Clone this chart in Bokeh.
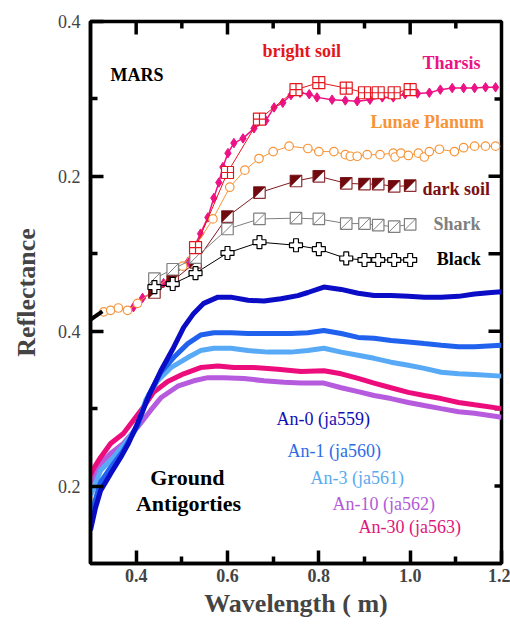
import math
from bokeh.plotting import figure
from bokeh.models import Range1d, LinearAxis, FixedTicker, Label, Arrow, CustomJSTickFormatter
from bokeh.embed import file_html
from bokeh.resources import INLINE

# ---------------- MARS spectra (upper panel, reflectance 0..0.4) ----------------
tharsis_x = [0.394, 0.414, 0.438, 0.460, 0.487, 0.513, 0.526, 0.541, 0.557, 0.570, 0.581, 0.590,
             0.601, 0.614, 0.634, 0.658, 0.684, 0.702, 0.721, 0.739, 0.759, 0.779, 0.796, 0.829,
             0.858, 0.884, 0.912, 0.939, 0.963, 0.989, 1.016, 1.042, 1.066, 1.092, 1.117, 1.141,
             1.165, 1.187]
tharsis_y = [0.031, 0.043, 0.050, 0.062, 0.075, 0.089, 0.108, 0.126, 0.147, 0.172, 0.192, 0.212,
             0.230, 0.243, 0.249, 0.262, 0.272, 0.289, 0.295, 0.305, 0.308, 0.306, 0.302, 0.299,
             0.298, 0.297, 0.299, 0.302, 0.302, 0.306, 0.307, 0.308, 0.312, 0.314, 0.314, 0.314,
             0.315, 0.315]

lunae_x = [0.329, 0.344, 0.361, 0.381, 0.403, 0.502, 0.568, 0.605, 0.638, 0.669, 0.700, 0.735,
           0.776, 0.800, 0.833, 0.858, 0.869, 0.884, 0.906, 0.934, 0.963, 0.967, 0.980, 0.996,
           1.018, 1.031, 1.042, 1.064, 1.097, 1.117, 1.141, 1.165, 1.187]
lunae_y = [0.025, 0.027, 0.030, 0.027, 0.036, 0.084, 0.145, 0.186, 0.208, 0.223, 0.232, 0.239,
           0.236, 0.232, 0.232, 0.228, 0.226, 0.226, 0.228, 0.228, 0.230, 0.225, 0.230, 0.227,
           0.230, 0.225, 0.232, 0.235, 0.232, 0.237, 0.239, 0.239, 0.239]

bright_x = [0.53, 0.60, 0.67, 0.75, 0.80, 0.86, 0.90, 0.93, 0.965, 1.00]
bright_y = [0.108, 0.205, 0.274, 0.312, 0.321, 0.314, 0.308, 0.308, 0.308, 0.312]

soil_x = [0.44, 0.48, 0.53, 0.60, 0.67, 0.75, 0.80, 0.86, 0.90, 0.93, 0.965, 1.00]
dark_y = [0.050, 0.065, 0.089, 0.148, 0.179, 0.194, 0.200, 0.191, 0.190, 0.190, 0.187, 0.188]
shark_y = [0.068, 0.080, 0.095, 0.132, 0.145, 0.146, 0.145, 0.139, 0.139, 0.137, 0.135, 0.138]
black_y = [0.057, 0.061, 0.075, 0.101, 0.115, 0.111, 0.106, 0.094, 0.092, 0.092, 0.092, 0.092]

# ---------------- Ground antigorites (lower panel, reflectance 0.1..0.4) ----------------
an0_x = [0.300, 0.311, 0.322, 0.344, 0.366, 0.383, 0.403, 0.425, 0.454, 0.482, 0.504, 0.526,
         0.548, 0.579, 0.607, 0.645, 0.680, 0.717, 0.754, 0.776, 0.811, 0.849, 0.886, 0.921,
         0.958, 0.996, 1.031, 1.068, 1.106, 1.141, 1.178, 1.200]
an0_y = [0.143, 0.172, 0.194, 0.216, 0.237, 0.255, 0.281, 0.313, 0.349, 0.379, 0.405, 0.423,
         0.436, 0.444, 0.444, 0.440, 0.439, 0.442, 0.446, 0.450, 0.457, 0.454, 0.449, 0.446,
         0.446, 0.445, 0.444, 0.444, 0.445, 0.448, 0.450, 0.451]

an1_x = [0.300, 0.307, 0.322, 0.344, 0.372, 0.403, 0.427, 0.454, 0.482, 0.513, 0.541, 0.570,
         0.607, 0.645, 0.689, 0.739, 0.776, 0.811, 0.849, 0.886, 0.921, 0.958, 0.996, 1.031,
         1.068, 1.106, 1.141, 1.200]
an1_y = [0.162, 0.175, 0.205, 0.224, 0.246, 0.278, 0.317, 0.347, 0.366, 0.384, 0.395, 0.398,
         0.398, 0.397, 0.397, 0.397, 0.398, 0.401, 0.397, 0.392, 0.391, 0.388, 0.386, 0.384,
         0.382, 0.380, 0.380, 0.382]

an3_x = [0.300, 0.307, 0.322, 0.350, 0.381, 0.403, 0.421, 0.447, 0.476, 0.513, 0.541, 0.570,
         0.607, 0.645, 0.689, 0.739, 0.776, 0.811, 0.849, 0.886, 0.921, 0.958, 0.996, 1.031,
         1.068, 1.106, 1.141, 1.200]
an3_y = [0.188, 0.197, 0.220, 0.237, 0.259, 0.278, 0.311, 0.336, 0.353, 0.366, 0.375, 0.378,
         0.378, 0.375, 0.373, 0.373, 0.375, 0.378, 0.373, 0.369, 0.365, 0.360, 0.356, 0.352,
         0.347, 0.345, 0.344, 0.342]

an10_x = [0.300, 0.307, 0.322, 0.344, 0.372, 0.403, 0.432, 0.454, 0.491, 0.526, 0.557, 0.592,
          0.636, 0.680, 0.724, 0.761, 0.811, 0.849, 0.886, 0.921, 0.958, 0.996, 1.031, 1.068,
          1.106, 1.141, 1.200]
an10_y = [0.205, 0.210, 0.229, 0.242, 0.255, 0.276, 0.298, 0.314, 0.329, 0.336, 0.340, 0.340,
          0.339, 0.336, 0.334, 0.333, 0.333, 0.327, 0.322, 0.317, 0.313, 0.308, 0.304, 0.300,
          0.296, 0.294, 0.289]

an30_x = [0.300, 0.307, 0.322, 0.344, 0.372, 0.394, 0.416, 0.438, 0.469, 0.504, 0.541, 0.579,
          0.614, 0.658, 0.710, 0.761, 0.811, 0.849, 0.886, 0.921, 0.958, 0.996, 1.031, 1.068,
          1.106, 1.141, 1.200]
an30_y = [0.214, 0.223, 0.237, 0.255, 0.268, 0.285, 0.302, 0.321, 0.335, 0.345, 0.353, 0.355,
          0.353, 0.353, 0.351, 0.348, 0.349, 0.345, 0.339, 0.333, 0.327, 0.321, 0.317, 0.313,
          0.308, 0.305, 0.300]

x_major = [0.4, 0.6, 0.8, 1.0, 1.2]
x_minor = [0.5, 0.7, 0.9, 1.1]
top_major = [0.4, 0.6, 0.8, 1.0]
right_major = [0.4, 0.5, 0.6]
right_minor = [0.2, 0.3, 0.7]

SERIF = "Liberation Serif"

p = figure(width=510, height=624, output_backend="svg", toolbar_location=None,
           x_range=Range1d(0.3, 1.2), y_range=Range1d(0.1, 0.8),
           x_axis_location=None, y_axis_location=None,
           min_border_left=90, min_border_right=9, min_border_top=21, min_border_bottom=61)
p.extra_y_ranges = {"mars": Range1d(-0.3, 0.4)}
p.xgrid.visible = False
p.ygrid.visible = False
p.outline_line_color = "black"
p.outline_line_width = 3.5
p.background_fill_color = "white"
p.border_fill_color = "white"


def style_axis(ax):
    ax.axis_line_color = "black"
    ax.axis_line_width = 3.5
    ax.major_tick_line_width = 3.5
    ax.minor_tick_line_width = 3.5
    ax.major_tick_in = 13
    ax.major_tick_out = 0
    ax.minor_tick_in = 7
    ax.minor_tick_out = 0
    ax.major_label_text_font = SERIF
    ax.major_label_text_font_size = "18px"
    ax.axis_label_text_font = SERIF
    ax.axis_label_text_font_style = "bold"
    ax.axis_label_text_font_size = "26px"


bottom = LinearAxis(ticker=FixedTicker(ticks=x_major, minor_ticks=x_minor),
                    formatter=CustomJSTickFormatter(code="return tick.toFixed(1);"),
                    axis_label="Wavelength ( m)")
style_axis(bottom)
bottom.major_label_text_font_style = "bold"
bottom.major_label_standoff = 5
bottom.axis_label_standoff = 4
p.add_layout(bottom, "below")

left = LinearAxis(ticker=FixedTicker(ticks=[0.2, 0.4, 0.6, 0.8], minor_ticks=[0.3, 0.5, 0.7]),
                  formatter=CustomJSTickFormatter(
                      code="return (tick > 0.5 ? tick - 0.4 : tick).toFixed(1);"),
                  axis_label="Reflectance")
style_axis(left)
left.major_label_standoff = 10
left.axis_label_standoff = 14
p.add_layout(left, "left")

# inward ticks of the top and right frame edges (centred dashes clipped by the frame)
p.scatter(top_major, [0.8] * len(top_major), marker="dash", angle=math.pi / 2, size=26,
          line_color="black", line_width=3.5)
p.scatter(x_minor, [0.8] * len(x_minor), marker="dash", angle=math.pi / 2, size=14,
          line_color="black", line_width=3.5)
p.scatter([1.2] * len(right_major), right_major, marker="dash", size=26,
          line_color="black", line_width=3.5)
p.scatter([1.2] * len(right_minor), right_minor, marker="dash", size=14,
          line_color="black", line_width=3.5)

# ---------------- lower panel curves ----------------
for xs, ys, col in [(an10_x, an10_y, "#b65ade"), (an30_x, an30_y, "#ec0c7c"),
                    (an3_x, an3_y, "#58aaf6"), (an1_x, an1_y, "#2062ee"),
                    (an0_x, an0_y, "#0a0cc6")]:
    p.line(xs, ys, line_color=col, line_width=5)

# ---------------- upper panel (MARS) ----------------
M = "mars"
THAR = "#ec1285"
p.line(tharsis_x, tharsis_y, y_range_name=M, line_color=THAR, line_width=1.5)
p.scatter(tharsis_x, tharsis_y, y_range_name=M, marker="diamond", size=9.5,
          fill_color=THAR, line_color=THAR)

ORG = "#f79438"
p.line(lunae_x, lunae_y, y_range_name=M, line_color=ORG, line_width=1)
p.scatter(lunae_x, lunae_y, y_range_name=M, marker="circle", size=8.5,
          fill_color="white", line_color=ORG, line_width=1.2)

DARK = "#700a0e"
p.line(soil_x, dark_y, y_range_name=M, line_color="#7e1a1e", line_width=1)
p.scatter(soil_x, dark_y, y_range_name=M, marker="square", size=11.5,
          fill_color="white", line_color="#8c2e32", line_width=1.2)
dx = 5.6 * 0.9 / 411
dy = 5.6 * 0.7 / 542
tri_xs = [[x - dx, x + dx, x - dx] for x in soil_x]
tri_ys = [[y + dy, y + dy, y - dy] for y in dark_y]
p.patches(tri_xs, tri_ys, y_range_name=M, fill_color=DARK, line_color=DARK, line_width=0.5)

GRY = "#7f7f7f"
p.line(soil_x, shark_y, y_range_name=M, line_color=GRY, line_width=1)
p.scatter(soil_x, shark_y, y_range_name=M, marker="square", size=11.5,
          fill_color="white", line_color=GRY, line_width=1.2)
p.scatter(soil_x, shark_y, y_range_name=M, marker="dash", size=15.5, angle=math.pi / 4,
          line_color=GRY, line_width=1)

p.line(soil_x, black_y, y_range_name=M, line_color="black", line_width=1)
p.scatter(soil_x, black_y, y_range_name=M, marker="plus", size=13,
          fill_color="white", line_color="black", line_width=1.2)

RED = "#e4161c"
p.line(bright_x, bright_y, y_range_name=M, line_color=RED, line_width=1)
p.scatter(bright_x, bright_y, y_range_name=M, marker="square_cross", size=12,
          fill_color="white", line_color=RED, line_width=1.2)

# ---------------- axis break mark ----------------
p.add_layout(Arrow(end=None, x_start=0.2720, y_start=0.4035, x_end=0.3260, y_end=0.4255,
                   line_color="black", line_width=4))

# ---------------- text labels ----------------
def lab(x, y, t, col, size="18px", bold=True, align="left"):
    p.add_layout(Label(x=x, y=y, text=t, text_color=col, text_font=SERIF,
                       text_font_size=size, text_font_style="bold" if bold else "normal",
                       text_align=align, text_baseline="middle"))

lab(0.3438, 0.7315, "MARS", "black")
lab(0.6766, 0.7625, "bright soil", RED)
lab(1.027, 0.7470, "Tharsis", THAR)
lab(0.913, 0.6696, "Lunae Planum", ORG)
lab(1.027, 0.5843, "dark soil", "#7a1014")
lab(1.051, 0.5391, "Shark", GRY)
lab(1.058, 0.4939, "Black", "black")
lab(0.512, 0.2111, "Ground", "black", size="22px", align="center")
lab(0.5146, 0.1775, "Antigorties", "black", size="22px", align="center")
lab(0.7073, 0.2860, "An-0 (ja559)", "#1010b4", bold=False)
lab(0.7314, 0.2447, "An-1 (ja560)", "#2e6be6", bold=False)
lab(0.7818, 0.2098, "An-3 (ja561)", "#5aaaf0", bold=False)
lab(0.8300, 0.1762, "An-10 (ja562)", "#b25ad8", bold=False)
lab(0.8869, 0.1465, "An-30 (ja563)", "#e0157a", bold=False)

open("out.html", "w").write(file_html(p, INLINE))
